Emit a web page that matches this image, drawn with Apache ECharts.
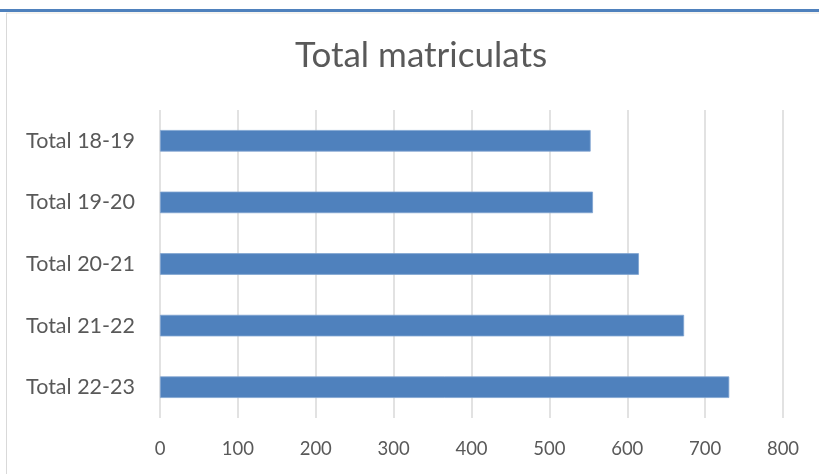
<!DOCTYPE html>
<html>
<head>
<meta charset="utf-8">
<script src="https://cdn.jsdelivr.net/npm/echarts@6/dist/echarts.min.js"></script>
<style>html,body{margin:0;padding:0;background:#fff;}#main{width:819px;height:474px;}</style>
</head>
<body>
<div id="main"></div>
<script>
const categories = ['Total 18-19', 'Total 19-20', 'Total 20-21', 'Total 21-22', 'Total 22-23'];
const values = [553, 556, 615, 673, 731];
const xTicks = { min: 0, max: 800, interval: 100 };
const titleText = 'Total matriculats';

const chart = echarts.init(document.getElementById('main'), null, { renderer: 'canvas' });
chart.setOption({
  backgroundColor: '#ffffff',
  animation: false,
  title: {
    text: titleText,
    left: 290,
    top: 33,
    textStyle: { fontFamily: 'Lato', fontSize: 35, fontWeight: 'normal', color: '#595959' }
  },
  graphic: [
    { type: 'rect', shape: { x: 0, y: 9, width: 819, height: 3 }, style: { fill: '#4f81bd' } },
    { type: 'line', shape: { x1: 6, y1: 13, x2: 819, y2: 13 }, style: { stroke: '#ece8e0', lineWidth: 1 } },
    { type: 'line', shape: { x1: 6.5, y1: 13, x2: 6.5, y2: 474 }, style: { stroke: '#d9d9d9', lineWidth: 1 } }
  ],
  grid: { left: 160, right: 36, top: 110, bottom: 56, containLabel: false },
  xAxis: {
    type: 'value',
    min: xTicks.min, max: xTicks.max, interval: xTicks.interval,
    axisLine: { show: false },
    axisTick: { show: false },
    splitLine: { show: true, lineStyle: { color: '#d9d9d9', width: 1.5 } },
    axisLabel: { fontFamily: 'Lato', fontSize: 18.5, color: '#595959', margin: 22 }
  },
  yAxis: {
    type: 'category',
    data: categories,
    inverse: true,
    axisLine: { show: false },
    axisTick: { show: false },
    axisLabel: { fontFamily: 'Lato', fontSize: 21.5, color: '#595959', margin: 25 }
  },
  series: [{
    type: 'bar',
    data: values,
    barWidth: '35%',
    itemStyle: { color: '#4f81bd', borderColor: '#7fa3d0', borderWidth: 0.8 }
  }]
});
</script>
</body>
</html>
